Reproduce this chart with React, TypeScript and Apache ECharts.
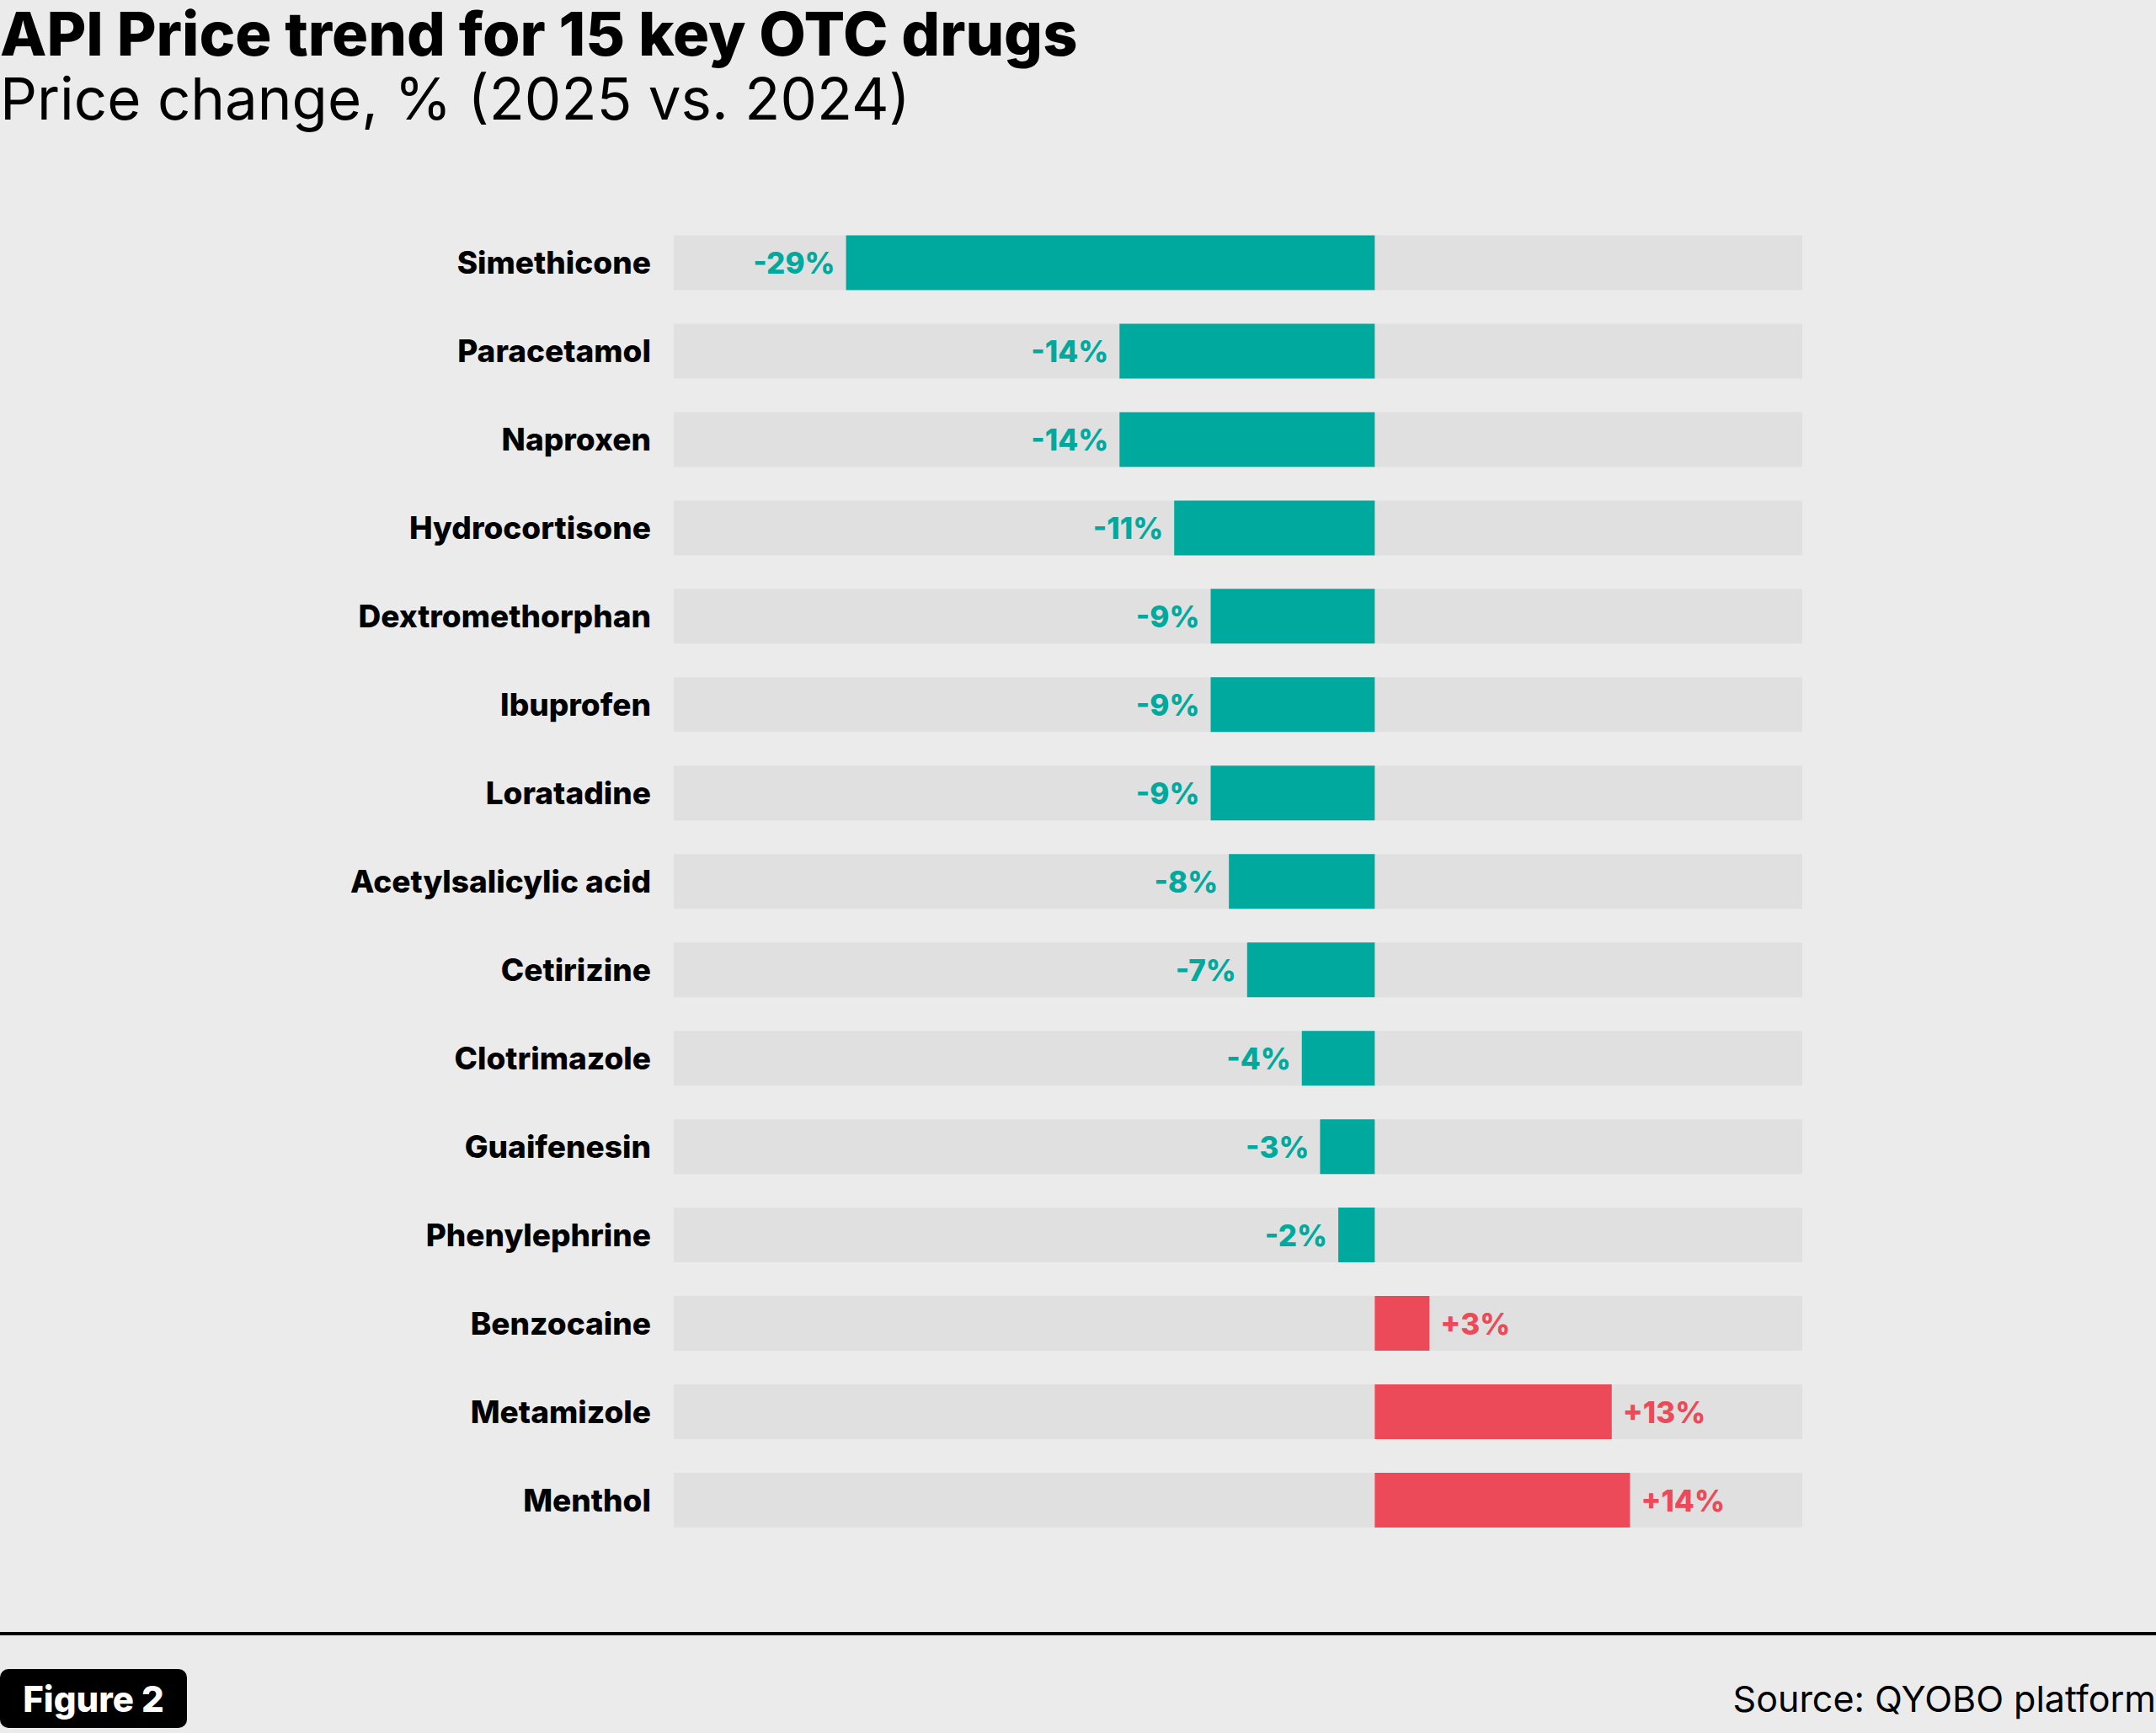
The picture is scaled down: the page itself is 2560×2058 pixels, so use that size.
import React, { useEffect, useRef } from "react";
import * as echarts from "echarts";

const categories = [
  "Simethicone",
  "Paracetamol",
  "Naproxen",
  "Hydrocortisone",
  "Dextromethorphan",
  "Ibuprofen",
  "Loratadine",
  "Acetylsalicylic acid",
  "Cetirizine",
  "Clotrimazole",
  "Guaifenesin",
  "Phenylephrine",
  "Benzocaine",
  "Metamizole",
  "Menthol",
];
const priceChange = [-29, -14, -14, -11, -9, -9, -9, -8, -7, -4, -3, -2, 3, 13, 14];

const TITLE = "API Price trend for 15 key OTC drugs";
const SUBTITLE = "Price change, % (2025 vs. 2024)";
const FIGURE = "Figure 2";
const SOURCE = "Source: QYOBO platform";

const TEAL = "#00a99d";
const RED = "#ec4a58";
const FONT = "Inter, 'Noto Sans', sans-serif";

export default function App() {
  const ref = useRef<HTMLDivElement>(null);
  useEffect(() => {
    document.body.style.margin = "0";
    const chart = echarts.init(ref.current!, null, { renderer: "svg" });
    const data = priceChange.map((v) => ({
      value: v,
      itemStyle: { color: v < 0 ? TEAL : RED },
      label: {
        position: v < 0 ? "left" : "right",
        color: v < 0 ? TEAL : RED,
      },
    }));
    chart.setOption({
      animation: false,
      backgroundColor: "#ebebeb",
      grid: { left: 800, right: 420, top: 259.5, bottom: 224, containLabel: false },
      xAxis: {
        type: "value",
        min: -38.45,
        max: 23.45,
        show: false,
        splitLine: { show: false },
      },
      yAxis: {
        type: "category",
        data: categories,
        inverse: true,
        axisLine: { show: false },
        axisTick: { show: false },
        axisLabel: {
          margin: 27,
          fontFamily: FONT,
          fontWeight: 800,
          fontSize: 37,
          color: "#000",
        },
      },
      series: [
        {
          type: "bar",
          data,
          barWidth: 65,
          showBackground: true,
          backgroundStyle: { color: "#e0e0e0" },
          label: {
            show: true,
            distance: 13,
            fontFamily: FONT,
            fontWeight: 800,
            fontSize: 35,
            formatter: (p: any) => (p.value > 0 ? "+" + p.value + "%" : p.value + "%"),
          },
        },
      ],
      graphic: [
        {
          type: "text",
          left: 0,
          top: 3,
          style: {
            text: TITLE,
            font: `800 72px ${FONT}`,
            fill: "#000",
          },
        },
        {
          type: "text",
          left: 0,
          top: 82,
          style: {
            text: SUBTITLE,
            font: `normal 69px ${FONT}`,
            fill: "#000",
          },
        },
        {
          type: "rect",
          shape: { x: 0, y: 1938, width: 2560, height: 4 },
          style: { fill: "#000" },
        },
        {
          type: "rect",
          shape: { x: 0, y: 1982, width: 222, height: 70, r: 10 },
          style: { fill: "#000" },
        },
        {
          type: "text",
          x: 111,
          y: 2017,
          style: {
            text: FIGURE,
            font: `800 42px ${FONT}`,
            fill: "#fff",
            align: "center",
            verticalAlign: "middle",
          },
        },
        {
          type: "text",
          x: 2560,
          y: 2017,
          style: {
            text: SOURCE,
            font: `normal 43px ${FONT}`,
            fill: "#000",
            align: "right",
            verticalAlign: "middle",
          },
        },
      ],
    });
    return () => chart.dispose();
  }, []);
  return (
    <div
      ref={ref}
      style={{ position: "absolute", left: 0, top: 0, width: 2560, height: 2058 }}
    />
  );
}
